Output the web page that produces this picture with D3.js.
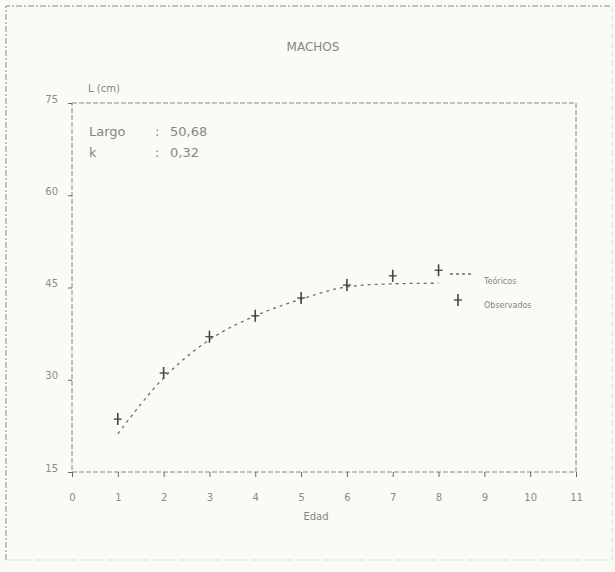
<!DOCTYPE html>
<html>
<head>
<meta charset="utf-8">
<script src="https://cdn.jsdelivr.net/npm/d3@7"></script>
<style>
  body { margin: 0; background: #fbfbf6; }
  text { font-family: "DejaVu Sans", sans-serif; fill: #858585; }
  .axis path, .axis line { stroke: #666; }
  .axis text { font-size: 10px; fill: #8a8a8a; }
</style>
</head>
<body>
<div id="chart"></div>
<script>
const edades = [1, 2, 3, 4, 5, 6, 7, 8];
const teoricos = [21.2, 30.3, 36.5, 40.4, 43.1, 45.1, 45.6, 45.7];
const observados = [23.6, 31.1, 37.0, 40.4, 43.3, 45.4, 46.9, 47.8];
const xTicks = [0, 1, 2, 3, 4, 5, 6, 7, 8, 9, 10, 11];
const yTicks = [15, 30, 45, 60, 75];

const width = 615;
const height = 572;
const padLeft = 72, padRight = 576, padTop = 103, padBottom = 472;

const svg = d3.select("#chart").append("svg")
  .attr("width", width)
  .attr("height", height);

// outer frame (scan border)
svg.append("path")
  .attr("d", "M6,560 V6 H612")
  .attr("fill", "none")
  .attr("stroke", "#888")
  .attr("stroke-width", 1)
  .attr("stroke-dasharray", "6,2,2,2");
svg.append("path")
  .attr("d", "M612,6 V560 H6")
  .attr("fill", "none")
  .attr("stroke", "#ddd")
  .attr("stroke-width", 1)
  .attr("stroke-dasharray", "6,3");

const x = d3.scaleLinear().domain([0, 11]).range([padLeft, padRight]);
const y = d3.scaleLinear().domain([15, 75]).range([padBottom, padTop]);

// plot box
svg.append("rect")
  .attr("x", padLeft).attr("y", padTop)
  .attr("width", padRight - padLeft).attr("height", padBottom - padTop)
  .attr("fill", "none")
  .attr("stroke", "#888")
  .attr("stroke-dasharray", "5,2");

const xAxis = d3.axisBottom(x).tickValues(xTicks).tickSize(5).tickPadding(17);
svg.append("g")
  .attr("class", "axis")
  .attr("transform", `translate(0,${padBottom})`)
  .call(xAxis)
  .call(g => g.select(".domain").remove());

const yAxis = d3.axisLeft(y).tickValues(yTicks).tickSize(4).tickPadding(10);
svg.append("g")
  .attr("class", "axis")
  .attr("transform", `translate(${padLeft},0)`)
  .call(yAxis)
  .call(g => g.select(".domain").remove())
  .call(g => g.selectAll("text").attr("dy", "-0.1em"));

// titles
svg.append("text")
  .attr("x", 313).attr("y", 51)
  .attr("text-anchor", "middle")
  .attr("font-size", 12)
  .text("MACHOS");

svg.append("text")
  .attr("x", 88).attr("y", 92)
  .attr("font-size", 10)
  .text("L (cm)");

svg.append("text")
  .attr("x", 316).attr("y", 520)
  .attr("text-anchor", "middle")
  .attr("font-size", 10)
  .text("Edad");

// parameters
const params = [["Largo", "50,68"], ["k", "0,32"]];
params.forEach((p, i) => {
  svg.append("text").attr("x", 89).attr("y", 136 + i * 21).attr("font-size", 13).text(p[0]);
  svg.append("text").attr("x", 155).attr("y", 136 + i * 21).attr("font-size", 13).text(":");
  svg.append("text").attr("x", 170).attr("y", 136 + i * 21).attr("font-size", 13).text(p[1]);
});

// theoretical curve
const line = d3.line()
  .x((d, i) => x(edades[i]))
  .y(d => y(d))
  .curve(d3.curveMonotoneX);

svg.append("path")
  .datum(teoricos)
  .attr("d", line)
  .attr("fill", "none")
  .attr("stroke", "#6a6a8a")
  .attr("stroke-width", 1.3)
  .attr("stroke-dasharray", "3,4");

// observed markers
function drawPlus(g) {
  g.append("line").attr("x1", 0).attr("x2", 0).attr("y1", -6).attr("y2", 6)
    .attr("stroke", "#444").attr("stroke-width", 1.6);
  g.append("line").attr("x1", -4).attr("x2", 4).attr("y1", 0).attr("y2", 0)
    .attr("stroke", "#444").attr("stroke-width", 1.3);
}

svg.selectAll(".obs")
  .data(observados)
  .enter()
  .append("g")
  .attr("class", "obs")
  .attr("transform", (d, i) => `translate(${x(edades[i])},${y(d)})`)
  .each(function () { drawPlus(d3.select(this)); });

// legend
const legend = svg.append("g");
legend.append("line")
  .attr("x1", 450).attr("x2", 474).attr("y1", 274).attr("y2", 274)
  .attr("stroke", "#6a6a8a").attr("stroke-width", 1.3)
  .attr("stroke-dasharray", "3,3");
legend.append("text").attr("x", 484).attr("y", 284).attr("font-size", 8).text("Teóricos");

drawPlus(legend.append("g").attr("transform", "translate(458,300)"));
legend.append("text").attr("x", 484).attr("y", 308).attr("font-size", 8).text("Observados");
</script>
</body>
</html>
